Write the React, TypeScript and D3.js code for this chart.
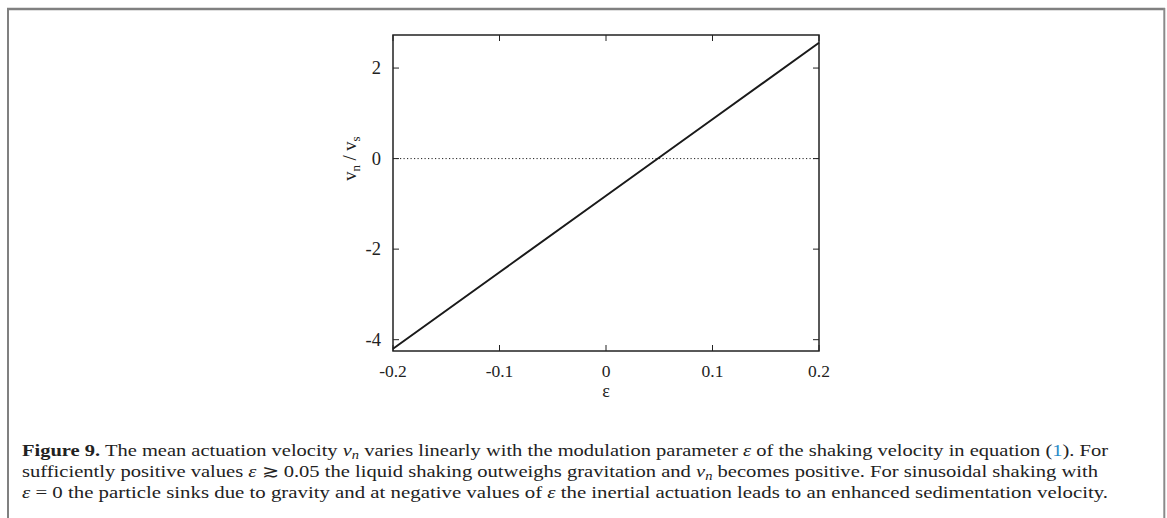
import React from "react";
import * as d3 from "d3";

const epsValues = [-0.2, -0.1, 0, 0.1, 0.2];
const vnValues = [-4.2, -2.51, -0.82, 0.87, 2.56];
const xTicks = [-0.2, -0.1, 0, 0.1, 0.2];
const xTickLabels = ["-0.2", "-0.1", "0", "0.1", "0.2"];
const yTicks = [2, 0, -2, -4];
const yTickLabels = ["2", "0", "-2", "-4"];

const W = 1167;
const H = 518;
const left = 393, right = 819, top = 35, bottom = 351;
const serif = '"Liberation Serif", "Times New Roman", Times, "DejaVu Serif", serif';

export default function App() {
  const x = d3.scaleLinear().domain([-0.2, 0.2]).range([left, right]);
  const y = d3.scaleLinear().domain([-4.25, 2.73]).range([bottom, top]);
  const line = d3
    .line<number>()
    .x((_, i) => x(epsValues[i]))
    .y((d) => y(d));
  const tl = 6;
  const capSize = 17;
  const sf = { fontFamily: serif };
  return (
    <div style={{ position: "absolute", left: 0, top: 0 }}>
      <svg width={W} height={H} style={{ display: "block", background: "#fff" }}>
        {/* page frame */}
        <line x1={7} y1={9} x2={1165} y2={9} stroke="#808080" strokeWidth={2.5} />
        <line x1={8} y1={8} x2={8} y2={H} stroke="#808080" strokeWidth={2} />
        <line x1={1164.3} y1={8} x2={1164.3} y2={H} stroke="#8a8a8a" strokeWidth={2} />

        {/* zero line */}
        <line x1={left} x2={right} y1={y(0)} y2={y(0)} stroke="#222" strokeWidth={1} strokeDasharray="1.2,2.3" />

        {/* ticks */}
        {xTicks.map((t) => (
          <g key={"x" + t}>
            <line x1={x(t)} x2={x(t)} y1={bottom} y2={bottom - tl} stroke="#222" strokeWidth={1} />
            <line x1={x(t)} x2={x(t)} y1={top} y2={top + tl} stroke="#222" strokeWidth={1} />
          </g>
        ))}
        {yTicks.map((t) => (
          <g key={"y" + t}>
            <line x1={left} x2={left + tl} y1={y(t)} y2={y(t)} stroke="#222" strokeWidth={1} />
            <line x1={right} x2={right - tl} y1={y(t)} y2={y(t)} stroke="#222" strokeWidth={1} />
          </g>
        ))}

        {/* frame */}
        <rect x={left} y={top} width={right - left} height={bottom - top} fill="none" stroke="#222" strokeWidth={1.5} />

        {/* data line */}
        <path d={line(vnValues) || ""} fill="none" stroke="#1a1a1a" strokeWidth={2} />

        {/* tick labels */}
        {xTicks.map((t, i) => (
          <text key={"xl" + t} x={x(t)} y={377} textAnchor="middle" style={sf} fontSize={17.5} fill="#222">
            {xTickLabels[i]}
          </text>
        ))}
        {yTicks.map((t, i) => (
          <text key={"yl" + t} x={381} y={y(t) + 6} textAnchor="end" style={sf} fontSize={18.5} fill="#222">
            {yTickLabels[i]}
          </text>
        ))}

        {/* axis labels */}
        <text x={x(0)} y={397} textAnchor="middle" style={sf} fontSize={18} fill="#222">ε</text>
        <text transform={`translate(356,${y(0)}) rotate(-90)`} textAnchor="middle" style={sf} fontSize={18.5} fill="#222">
          v<tspan fontSize={13} dy={4}>n</tspan>
          <tspan dy={-4}> / v</tspan>
          <tspan fontSize={13} dy={4}>s</tspan>
        </text>

        {/* caption */}
        <g style={sf} fontSize={capSize} fill="#222">
          <text x={22} y={456} textLength={1086} lengthAdjust="spacingAndGlyphs">
            <tspan fontWeight="bold">Figure 9.</tspan>
            <tspan> The mean actuation velocity </tspan>
            <tspan fontStyle="italic">v</tspan>
            <tspan fontStyle="italic" fontSize={12} dy={3}>n</tspan>
            <tspan dy={-3}> varies linearly with the modulation parameter </tspan>
            <tspan fontStyle="italic">ε</tspan>
            <tspan> of the shaking velocity in equation (</tspan>
            <tspan fill="#2a8bc7">1</tspan>
            <tspan>). For</tspan>
          </text>
          <text x={22} y={477} textLength={1076} lengthAdjust="spacingAndGlyphs">
            <tspan>sufficiently positive values </tspan>
            <tspan fontStyle="italic">ε</tspan>
            <tspan> ≳ 0.05 the liquid shaking outweighs gravitation and </tspan>
            <tspan fontStyle="italic">v</tspan>
            <tspan fontStyle="italic" fontSize={12} dy={3}>n</tspan>
            <tspan dy={-3}> becomes positive. For sinusoidal shaking with</tspan>
          </text>
          <text x={22} y={498} textLength={1086} lengthAdjust="spacingAndGlyphs">
            <tspan fontStyle="italic">ε</tspan>
            <tspan> = 0 the particle sinks due to gravity and at negative values of </tspan>
            <tspan fontStyle="italic">ε</tspan>
            <tspan> the inertial actuation leads to an enhanced sedimentation velocity.</tspan>
          </text>
        </g>
      </svg>
    </div>
  );
}
